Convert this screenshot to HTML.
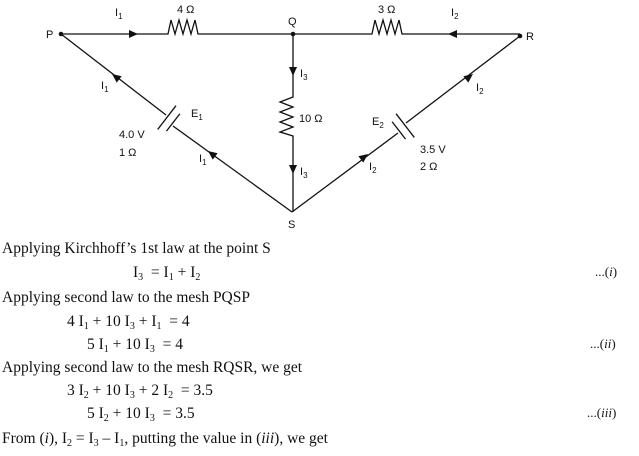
<!DOCTYPE html>
<html><head><meta charset="utf-8"><style>
body{margin:0;background:#fff;width:639px;height:456px;overflow:hidden;position:relative}
svg{position:absolute;left:0;top:0}
.t{position:absolute;font-family:"Liberation Serif",serif;font-size:15.5px;color:#111;white-space:nowrap;line-height:1}
sub{font-size:10px;vertical-align:-3px;line-height:0}
</style></head><body>
<svg width="639" height="230" font-family="Liberation Sans, sans-serif" font-size="11" fill="#111">
<defs><polygon id="a" points="5,0 -4,-4 -4,4"/></defs>
<g stroke="#111" stroke-width="1.3" fill="none">
<path d="M61,34 H168 l3,-14 l4,14 l4,-14 l4,14 l4,-14 l4,14 l4,-14 l3,14 H372 l3,-14 l4,14 l4,-14 l4,14 l4,-14 l4,14 l4,-14 l3,14 H520"/>
<path d="M293,34 V97 l-13,5 l13,5 l-13,5 l13,5 l-13,5 l13,5 l-13,5 l13,4 V212"/>
<line x1="61" y1="34" x2="166" y2="115"/><line x1="173" y1="126" x2="292" y2="212"/>
<line x1="292" y1="212" x2="398" y2="133"/><line x1="406" y1="123" x2="520" y2="36"/>
<g transform="translate(170,120) rotate(37.6)"><line x1="-4" y1="-15" x2="-4" y2="15"/><line x1="4" y1="-11" x2="4" y2="11"/></g>
<g transform="translate(402,128) rotate(-37.6)"><line x1="-4" y1="-11" x2="-4" y2="11"/><line x1="4" y1="-15" x2="4" y2="15"/></g>
</g>
<g stroke="none">
<circle cx="61" cy="34" r="2.3"/><circle cx="293" cy="34" r="2.3"/><circle cx="520" cy="36" r="2.3"/>
<use href="#a" transform="translate(133,34)"/>
<use href="#a" transform="translate(453,34) rotate(180)"/>
<use href="#a" transform="translate(293,71) rotate(90)"/>
<use href="#a" transform="translate(293,169) rotate(90)"/>
<use href="#a" transform="translate(116,77) rotate(217.6)"/>
<use href="#a" transform="translate(212,154) rotate(217.6)"/>
<use href="#a" transform="translate(364,157) rotate(-37.7)"/>
<use href="#a" transform="translate(469,77) rotate(-37.7)"/>
<text x="46" y="38">P</text><text x="288" y="25">Q</text><text x="526" y="40">R</text><text x="288" y="228">S</text>
<text x="115" y="16">I<tspan font-size="8" dy="3">1</tspan></text>
<text x="451" y="16">I<tspan font-size="8" dy="3">2</tspan></text>
<text x="177" y="13">4 Ω</text><text x="378" y="13">3 Ω</text>
<text x="300" y="77">I<tspan font-size="8" dy="3">3</tspan></text>
<text x="300" y="175">I<tspan font-size="8" dy="3">3</tspan></text>
<text x="299" y="122">10 Ω</text>
<text x="101" y="89">I<tspan font-size="8" dy="3">1</tspan></text>
<text x="199" y="162">I<tspan font-size="8" dy="3">1</tspan></text>
<text x="369" y="170">I<tspan font-size="8" dy="3">2</tspan></text>
<text x="476" y="91">I<tspan font-size="8" dy="3">2</tspan></text>
<text x="191" y="117">E<tspan font-size="8" dy="3">1</tspan></text>
<text x="372" y="125">E<tspan font-size="8" dy="3">2</tspan></text>
<text x="119" y="138">4.0 V</text><text x="119" y="156">1 Ω</text>
<text x="420" y="153">3.5 V</text><text x="420" y="170">2 Ω</text>
</g>
</svg>
<div class="t" style="left:2px;top:241px">Applying Kirchhoff’s 1st law at the point S</div>
<div class="t" style="left:133px;top:265px">I<sub>3</sub> &nbsp;= I<sub>1</sub> + I<sub>2</sub></div>
<div class="t" style="left:595px;top:265px;font-size:13px">...(<i>i</i>)</div>
<div class="t" style="left:2px;top:290px">Applying second law to the mesh PQSP</div>
<div class="t" style="left:67px;top:314px">4 I<sub>1</sub> + 10 I<sub>3</sub> + I<sub>1</sub> &nbsp;= 4</div>
<div class="t" style="left:87px;top:337px">5 I<sub>1</sub> + 10 I<sub>3</sub> &nbsp;= 4</div>
<div class="t" style="left:590px;top:337px;font-size:13px">...(<i>ii</i>)</div>
<div class="t" style="left:2px;top:360px">Applying second law to the mesh RQSR, we get</div>
<div class="t" style="left:67px;top:383px">3 I<sub>2</sub> + 10 I<sub>3</sub> + 2 I<sub>2</sub> &nbsp;= 3.5</div>
<div class="t" style="left:87px;top:406px">5 I<sub>2</sub> + 10 I<sub>3</sub> &nbsp;= 3.5</div>
<div class="t" style="left:587px;top:406px;font-size:13px">...(<i>iii</i>)</div>
<div class="t" style="left:2px;top:431px">From (<i>i</i>), I<sub>2</sub> = I<sub>3</sub> – I<sub>1</sub>, putting the value in (<i>iii</i>), we get</div>
</body></html>
